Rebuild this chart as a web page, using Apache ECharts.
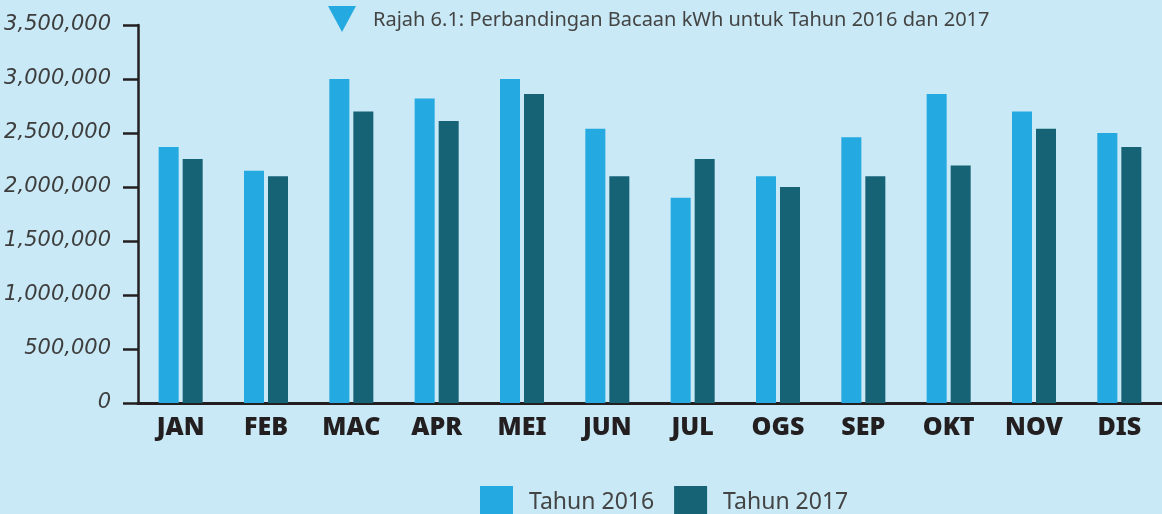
<!DOCTYPE html>
<html>
<head>
<meta charset="utf-8">
<script src="https://cdn.jsdelivr.net/npm/echarts@6/dist/echarts.min.js"></script>
<style>
  html, body { margin: 0; padding: 0; background: #c8e9f5; }
  #chart { width: 1162px; height: 514px; }
</style>
</head>
<body>
<div id="chart"></div>
<script>
// Monthly kWh readings, 2016 vs 2017
const months = ['JAN', 'FEB', 'MAC', 'APR', 'MEI', 'JUN', 'JUL', 'OGS', 'SEP', 'OKT', 'NOV', 'DIS'];
const kwh2016 = [2370000, 2150000, 3000000, 2820000, 3000000, 2540000, 1900000, 2100000, 2460000, 2860000, 2700000, 2500000];
const kwh2017 = [2260000, 2100000, 2700000, 2610000, 2860000, 2100000, 2260000, 2000000, 2100000, 2200000, 2540000, 2370000];
const seriesNames = ['Tahun 2016', 'Tahun 2017'];
const titleText = 'Rajah 6.1: Perbandingan Bacaan kWh untuk Tahun 2016 dan 2017';

const LIGHT = '#25a9e1';
const DARK = '#176376';
const INK = '#231f20';

function withCommas(v) {
  return String(v).replace(/\B(?=(\d{3})+(?!\d))/g, ',');
}

const chart = echarts.init(document.getElementById('chart'));
chart.setOption({
  backgroundColor: '#c8e9f5',
  animation: false,
  title: {
    text: titleText,
    left: 368,
    top: 5,
    textStyle: { fontFamily: 'Noto Sans', fontSize: 20, fontWeight: 'normal', color: '#444' }
  },
  graphic: [{
    type: 'polygon',
    shape: { points: [[328, 6], [356, 6], [342, 32]] },
    style: { fill: LIGHT }
  }],
  legend: {
    data: seriesNames,
    left: 475,
    top: 481,
    itemWidth: 33,
    itemHeight: 33,
    itemGap: 20,
    icon: 'rect',
    textStyle: { fontFamily: 'Noto Sans', fontSize: 23, color: '#444', padding: [0, 0, 0, 11] }
  },
  grid: { left: 138, right: -3, top: 25, bottom: 111, containLabel: false },
  xAxis: {
    type: 'category',
    data: months,
    axisLine: { lineStyle: { color: INK, width: 3 } },
    axisTick: { show: false },
    axisLabel: {
      margin: 12,
      fontFamily: 'Noto Sans',
      fontSize: 25,
      fontWeight: 900,
      color: INK
    }
  },
  yAxis: {
    type: 'value',
    min: 0,
    max: 3500000,
    interval: 500000,
    axisLine: { show: true, lineStyle: { color: INK, width: 2.5 } },
    axisTick: { show: true, length: 15, lineStyle: { color: INK, width: 2.5 } },
    splitLine: { show: false },
    axisLabel: {
      margin: 27,
      fontFamily: 'DejaVu Sans',
      fontSize: 21,
      fontStyle: 'italic',
      color: '#3d3d3d',
      formatter: withCommas
    }
  },
  series: [
    { name: seriesNames[0], type: 'bar', data: kwh2016, barWidth: 20, barGap: '20%', itemStyle: { color: LIGHT } },
    { name: seriesNames[1], type: 'bar', data: kwh2017, barWidth: 20, barGap: '20%', itemStyle: { color: DARK } }
  ]
});
</script>
</body>
</html>
